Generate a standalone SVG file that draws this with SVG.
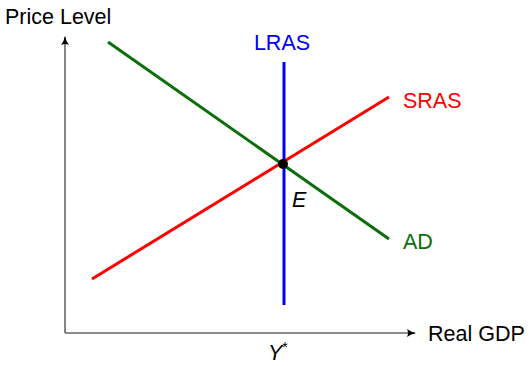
<svg xmlns="http://www.w3.org/2000/svg" width="531" height="366" viewBox="0 0 531 366">
<style>
text{font-family:"Liberation Sans","DejaVu Sans",sans-serif;font-size:21.5px}
.ax{stroke:#666;stroke-width:1.6;fill:none}
.c{stroke-width:3;fill:none}
</style>
<defs>
<marker id="ah" markerWidth="10" markerHeight="10" refX="8" refY="5" orient="auto" markerUnits="userSpaceOnUse">
<path d="M0,1 Q4,4 9,5 Q4,6 0,9 Q2,5 0,1Z" fill="#000"/>
</marker>
</defs>
<rect width="531" height="366" fill="#fff"/>
<g id="axes">
<line class="ax" x1="65" y1="333" x2="65" y2="37" marker-end="url(#ah)"/>
<line class="ax" x1="65" y1="333" x2="415" y2="333" marker-end="url(#ah)"/>
</g>
<g id="AD"><line class="c" stroke="#0a6e0a" x1="108" y1="42" x2="389" y2="239"/><text x="403" y="249" fill="#0a6e0a">AD</text></g>
<g id="SRAS"><line class="c" stroke="#ff0000" x1="92" y1="279" x2="389" y2="97"/><text x="403" y="108" fill="#ff0000">SRAS</text></g>
<g id="LRAS"><line class="c" stroke="#0000ff" x1="284" y1="62" x2="284" y2="305"/><text x="282" y="50" fill="#0000ff" text-anchor="middle">LRAS</text></g>
<g id="E"><circle cx="283" cy="164" r="5" fill="#000"/><text x="292" y="207" font-style="italic">E</text></g>
<text x="5" y="24">Price Level</text>
<text x="428" y="341">Real GDP</text>
<text x="268" y="360" font-size="20" font-style="italic">Y<tspan dy="-8" font-size="14" font-style="normal">*</tspan></text>
</svg>
